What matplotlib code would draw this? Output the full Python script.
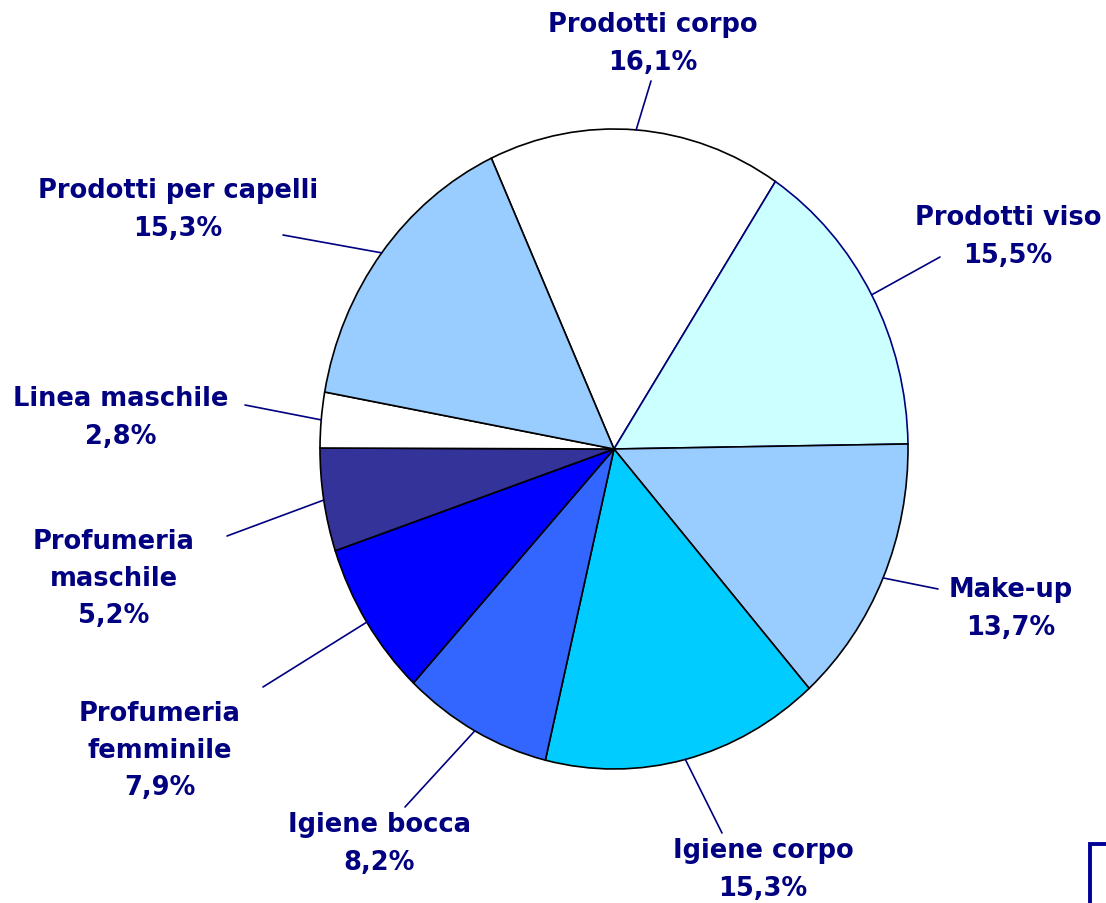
import matplotlib
matplotlib.use("Agg")
import matplotlib.pyplot as plt
import numpy as np

categories = ["Make-up", "Igiene corpo", "Igiene bocca", "Profumeria\nfemminile",
              "Profumeria\nmaschile", "Linea maschile", "Prodotti per capelli",
              "Prodotti corpo", "Prodotti viso"]
values = [13.7, 15.3, 8.2, 7.9, 5.2, 2.8, 15.3, 16.1, 15.5]
colors = ["#99CCFF", "#00CCFF", "#3366FF", "#0000FF", "#333399",
          "#FFFFFF", "#99CCFF", "#FFFFFF", "#CCFFFF"]

# label block centres (pixels) and leader outer ends (pixels)
label_pos = [(1011, 609), (763, 870), (379, 844), (160, 751), (114, 579),
             (121, 418), (178, 210), (653, 44), (1008, 237)]
leader_end = [(938, 590), (722, 834), (405, 808), (263, 688), (227, 537),
              (245, 406), (283, 236), (651, 82), (940, 258)]

W, H = 1106, 904
fig = plt.figure(figsize=(W / 100, H / 100), dpi=100)
navy = "#000080"

cx, cy, rx, ry = 614, 450, 294, 320
axp = fig.add_axes([(cx - rx) / W, (H - cy - ry) / H, 2 * rx / W, 2 * ry / H])
wedges, _ = axp.pie(values, colors=colors, startangle=0.9, counterclock=False,
                    wedgeprops=dict(edgecolor="black", linewidth=1.2))
wedges[-1].set_edgecolor("#000080")
wedges[-1].set_zorder(0.9)
wedges[-2].set_zorder(0.8)
axp.set_xlim(-1, 1)
axp.set_ylim(-1, 1)
axp.set_aspect("auto")
axp.axis("off")

ax = fig.add_axes([0, 0, 1, 1])
ax.set_xlim(0, W)
ax.set_ylim(H, 0)
ax.axis("off")
ax.patch.set_visible(False)

for w, lab, v, (lx, ly), (ex, ey) in zip(wedges, categories, values, label_pos, leader_end):
    mid = np.deg2rad((w.theta1 + w.theta2) / 2)
    ax.annotate("", xy=(np.cos(mid), np.sin(mid)), xycoords=axp.transData,
                xytext=(ex, ey), textcoords="data",
                arrowprops=dict(arrowstyle="-", color=navy, lw=1.2,
                                shrinkA=0, shrinkB=0))
    txt = f"{lab}\n{v:.1f}%".replace(".", ",")
    ax.text(lx, ly, txt, ha="center", va="center", fontsize=18.5,
            fontweight="bold", color=navy, linespacing=1.56,
            family="DejaVu Sans")

ax.plot([1090, 1090, 1106], [904, 845, 845], color="#000099", lw=2.8,
        solid_joinstyle="miter")

fig.savefig("out.png", dpi=100)
